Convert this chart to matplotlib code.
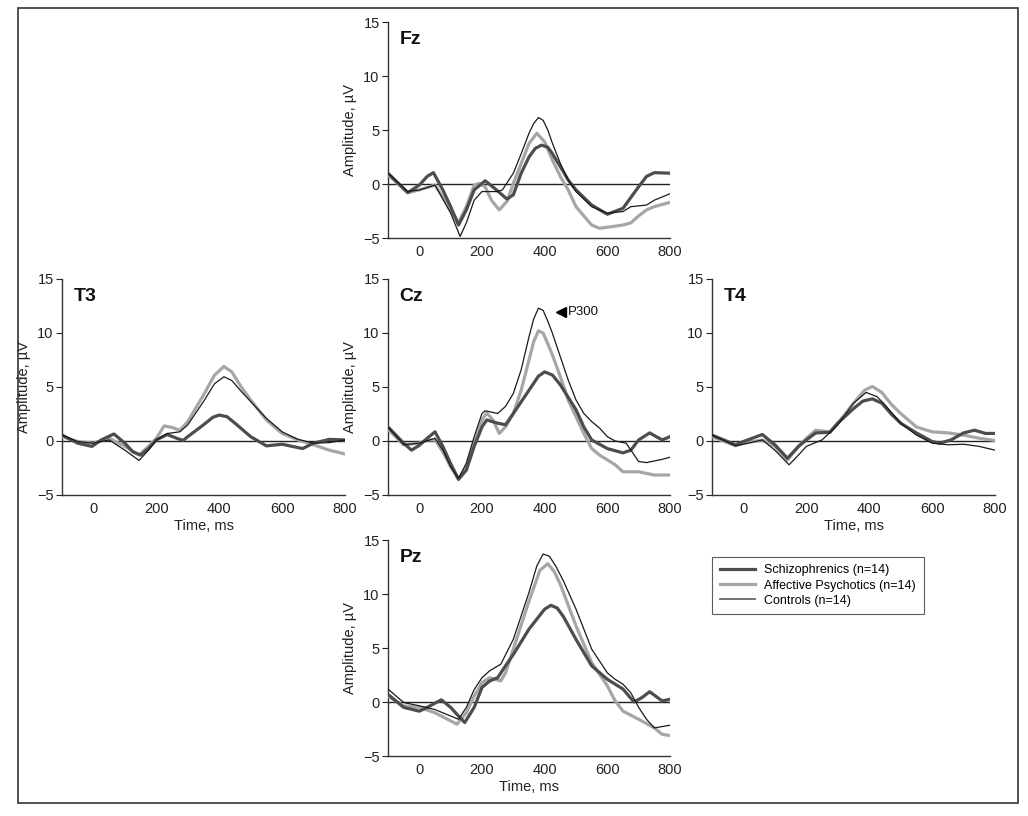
import matplotlib
matplotlib.use("Agg")
import matplotlib.pyplot as plt
from matplotlib.patches import Rectangle
from matplotlib.lines import Line2D

plt.rcParams['font.family'] = ['Liberation Sans Narrow', 'Liberation Sans', 'DejaVu Sans']

# ---------------- data (time in ms, amplitude in microvolts) ----------------
# Fz
fz_sch_t = [-100, -37, 0, 25, 45, 75, 100, 125, 150, 175, 210, 240, 280, 300, 325, 350, 370, 390, 410, 425, 450, 475, 500, 550, 600, 650, 700, 725, 750, 800]
fz_sch_v = [1.0, -0.8, -0.1, 0.7, 1.05, -0.55, -2.1, -3.8, -2.4, -0.55, 0.3, -0.4, -1.4, -1.0, 1.0, 2.5, 3.3, 3.6, 3.4, 2.8, 1.6, 0.37, -0.55, -1.95, -2.8, -2.25, -0.25, 0.7, 1.05, 1.0]
fz_aff_t = [-100, -37, 0, 50, 75, 100, 125, 150, 175, 190, 210, 230, 255, 280, 300, 325, 350, 375, 400, 425, 450, 475, 500, 550, 575, 600, 650, 675, 700, 725, 750, 800]
fz_aff_v = [0.85, -0.8, -0.55, -0.1, -1.2, -2.4, -3.6, -2.1, -0.1, 0.05, -0.25, -1.5, -2.4, -1.6, 0.05, 1.9, 3.75, 4.7, 3.9, 2.2, 0.7, -0.55, -2.1, -3.8, -4.1, -4.0, -3.8, -3.6, -2.95, -2.4, -2.1, -1.7]
fz_con_t = [-100, -37, 0, 50, 100, 130, 150, 175, 200, 250, 265, 300, 325, 350, 365, 380, 395, 410, 425, 450, 475, 500, 550, 600, 650, 675, 725, 750, 800]
fz_con_v = [1.0, -0.7, -0.55, -0.1, -2.7, -4.85, -3.6, -1.5, -0.7, -0.7, -0.55, 1.0, 2.8, 4.7, 5.6, 6.15, 5.9, 5.0, 3.75, 1.9, 0.37, -0.7, -2.1, -2.7, -2.55, -2.1, -1.95, -1.5, -0.9]

# Cz
cz_sch_t = [-100, -50, -25, 0, 25, 50, 75, 100, 125, 150, 175, 200, 215, 250, 275, 300, 350, 380, 400, 425, 450, 500, 525, 550, 600, 650, 675, 700, 735, 775, 800]
cz_sch_v = [1.3, -0.2, -0.85, -0.4, 0.25, 0.85, -0.5, -2.1, -3.55, -2.7, -0.5, 1.3, 1.95, 1.65, 1.5, 2.55, 4.7, 6.0, 6.4, 6.1, 5.2, 2.9, 1.3, 0.1, -0.7, -1.1, -0.85, 0.1, 0.75, 0.1, 0.4]
cz_aff_t = [-100, -50, 0, 25, 50, 75, 100, 125, 150, 175, 200, 215, 235, 255, 275, 300, 325, 350, 365, 380, 395, 410, 425, 450, 475, 500, 525, 550, 575, 600, 625, 650, 700, 750, 800]
cz_aff_v = [1.1, -0.35, -0.2, 0.1, 0.1, -1.0, -2.4, -3.55, -2.4, -0.2, 1.95, 2.6, 1.95, 0.7, 1.3, 2.55, 4.7, 7.5, 9.2, 10.2, 10.0, 9.0, 7.95, 5.95, 3.8, 2.25, 0.7, -0.7, -1.3, -1.75, -2.2, -2.85, -2.85, -3.15, -3.15]
cz_con_t = [-100, -50, 0, 50, 75, 100, 125, 150, 175, 200, 210, 250, 275, 300, 325, 350, 365, 380, 395, 410, 425, 450, 475, 500, 525, 550, 575, 600, 625, 660, 700, 725, 775, 800]
cz_con_v = [1.3, -0.35, -0.2, 0.25, -0.85, -2.4, -3.45, -2.05, 0.4, 2.55, 2.8, 2.55, 3.2, 4.4, 6.6, 9.65, 11.3, 12.3, 12.1, 11.1, 9.95, 7.8, 5.65, 3.8, 2.55, 1.8, 1.2, 0.4, 0.0, -0.2, -1.9, -2.0, -1.7, -1.5]

# T3
t3_sch_t = [-100, -50, -5, 25, 65, 100, 125, 150, 175, 200, 235, 265, 285, 300, 350, 380, 400, 425, 450, 500, 550, 600, 665, 700, 750, 800]
t3_sch_v = [0.55, -0.2, -0.5, 0.1, 0.65, -0.2, -1.0, -1.3, -0.7, 0.1, 0.6, 0.25, 0.05, 0.4, 1.5, 2.2, 2.4, 2.25, 1.65, 0.4, -0.45, -0.3, -0.7, -0.2, 0.15, 0.1]
t3_aff_t = [-100, -50, 0, 50, 100, 145, 175, 200, 225, 250, 275, 300, 350, 385, 415, 440, 470, 500, 550, 600, 650, 700, 750, 800]
t3_aff_v = [0.4, -0.05, -0.2, 0.25, -0.5, -1.3, -0.5, 0.25, 1.4, 1.25, 1.0, 1.8, 4.25, 6.1, 6.9, 6.4, 5.0, 3.8, 1.95, 0.7, 0.1, -0.35, -0.85, -1.2]
t3_con_t = [-100, -50, 0, 50, 100, 145, 175, 200, 235, 275, 300, 350, 385, 415, 440, 470, 500, 550, 600, 650, 700, 750, 800]
t3_con_v = [0.55, -0.05, -0.2, 0.1, -0.85, -1.8, -0.85, 0.1, 0.7, 0.85, 1.5, 3.65, 5.3, 5.95, 5.6, 4.6, 3.65, 2.1, 0.85, 0.15, -0.2, -0.15, 0.1]

# T4
t4_sch_t = [-100, -25, 0, 60, 100, 140, 175, 200, 230, 275, 300, 350, 380, 410, 440, 470, 500, 550, 600, 625, 660, 700, 735, 770, 800]
t4_sch_v = [0.55, -0.35, -0.05, 0.6, -0.35, -1.6, -0.5, 0.1, 0.75, 0.8, 1.65, 3.0, 3.7, 3.9, 3.5, 2.5, 1.65, 0.75, -0.05, -0.2, 0.1, 0.75, 1.0, 0.7, 0.7]
t4_aff_t = [-100, -25, 0, 60, 100, 140, 175, 200, 230, 275, 300, 350, 385, 410, 440, 470, 500, 550, 600, 650, 700, 750, 800]
t4_aff_v = [0.4, -0.45, -0.2, 0.1, -0.5, -1.75, -0.5, 0.25, 1.0, 0.85, 1.65, 3.5, 4.7, 5.05, 4.5, 3.4, 2.55, 1.3, 0.85, 0.75, 0.55, 0.25, 0.05]
t4_con_t = [-100, -25, 0, 60, 100, 145, 175, 200, 250, 300, 350, 390, 425, 450, 500, 550, 600, 650, 700, 750, 800]
t4_con_v = [0.55, -0.45, -0.3, 0.1, -0.85, -2.2, -1.3, -0.5, 0.1, 1.5, 3.5, 4.5, 4.1, 3.35, 1.65, 0.55, -0.2, -0.35, -0.3, -0.5, -0.85]

# Pz
pz_sch_t = [-100, -50, 0, 25, 70, 100, 125, 145, 175, 200, 225, 250, 275, 300, 350, 400, 420, 440, 460, 500, 550, 600, 650, 685, 710, 735, 775, 800]
pz_sch_v = [0.7, -0.5, -0.85, -0.5, 0.2, -0.5, -1.3, -1.9, -0.5, 1.35, 1.95, 2.25, 3.35, 4.4, 6.75, 8.6, 8.95, 8.7, 7.9, 5.8, 3.35, 2.1, 1.2, 0.0, 0.4, 0.95, 0.1, 0.25]
pz_aff_t = [-100, -50, 0, 50, 100, 120, 150, 175, 200, 225, 260, 275, 300, 350, 385, 410, 430, 450, 500, 550, 600, 625, 650, 700, 750, 775, 800]
pz_aff_v = [0.55, -0.35, -0.5, -1.0, -1.75, -2.05, -1.0, 0.55, 1.8, 2.25, 1.95, 2.7, 4.9, 9.35, 12.2, 12.8, 12.1, 10.9, 7.05, 3.65, 1.5, 0.1, -0.85, -1.6, -2.4, -3.0, -3.1]
pz_con_t = [-100, -50, 0, 50, 100, 125, 150, 175, 200, 225, 260, 300, 350, 375, 395, 415, 435, 460, 500, 550, 600, 625, 650, 675, 700, 725, 750, 800]
pz_con_v = [1.2, -0.05, -0.35, -0.7, -1.3, -1.6, -0.5, 1.15, 2.25, 2.9, 3.5, 5.8, 10.15, 12.6, 13.7, 13.5, 12.6, 11.2, 8.6, 4.9, 2.7, 2.1, 1.65, 0.85, -0.5, -1.6, -2.4, -2.15]

group_labels = ["Schizophrenics (n=14)", "Affective Psychotics (n=14)", "Controls (n=14)"]
x_ticks = [0, 200, 400, 600, 800]
y_ticks = [-5, 0, 5, 10, 15]

# ---------------- styling ----------------
styles = [dict(color="#4d4d4d", lw=2.3, zorder=4),
          dict(color="#a6a6a6", lw=2.3, zorder=3),
          dict(color="#1a1a1a", lw=0.9, zorder=5)]

W, H = 1028, 816
fig = plt.figure(figsize=(W / 100, H / 100), dpi=100)
fig.patch.set_facecolor("white")


def px_axes(x0, x1, ytop, ybot):
    return fig.add_axes([x0 / W, 1 - ybot / H, (x1 - x0) / W, (ybot - ytop) / H])


def draw_panel(ax, name, series, ylabel=True, xlabel=False):
    for (t, v), st in zip(series, styles):
        ax.plot(t, v, solid_joinstyle="round", solid_capstyle="round", **st)
    ax.axhline(0, color="#222222", lw=1.0, zorder=2)
    ax.set_xlim(-100, 800)
    ax.set_ylim(-5, 15)
    ax.set_xticks(x_ticks)
    ax.set_yticks(y_ticks)
    ax.set_yticklabels(["\u22125", "0", "5", "10", "15"])
    for s in ("top", "right"):
        ax.spines[s].set_visible(False)
    for s in ("left", "bottom"):
        ax.spines[s].set_color("#333333")
        ax.spines[s].set_linewidth(1.0)
    ax.tick_params(axis="x", length=0, pad=5, labelsize=10.5, colors="#222222")
    ax.tick_params(axis="y", length=4, width=0.8, pad=2, labelsize=10.5, colors="#222222")
    ax.text(0.04, 0.92, name, transform=ax.transAxes, fontsize=14, fontweight="bold",
            va="center", ha="left", color="#111111")
    if ylabel:
        ax.set_ylabel("Amplitude, \u00b5V", fontsize=10.5, color="#222222", labelpad=4)
    if xlabel:
        ax.set_xlabel("Time, ms", fontsize=10.5, color="#222222", labelpad=2)
    ax.set_facecolor("none")


ax_fz = px_axes(388, 670, 22, 238)
draw_panel(ax_fz, "Fz", [(fz_sch_t, fz_sch_v), (fz_aff_t, fz_aff_v), (fz_con_t, fz_con_v)])

ax_cz = px_axes(388, 670, 279, 495)
draw_panel(ax_cz, "Cz", [(cz_sch_t, cz_sch_v), (cz_aff_t, cz_aff_v), (cz_con_t, cz_con_v)])
ax_cz.plot([452], [11.9], marker="<", color="black", markersize=7, zorder=6)
ax_cz.text(474, 11.9, "P300", fontsize=9.5, va="center", ha="left", color="#111111")

ax_t3 = px_axes(62, 345, 279, 495)
draw_panel(ax_t3, "T3", [(t3_sch_t, t3_sch_v), (t3_aff_t, t3_aff_v), (t3_con_t, t3_con_v)], xlabel=True)

ax_t4 = px_axes(712, 995, 279, 495)
draw_panel(ax_t4, "T4", [(t4_sch_t, t4_sch_v), (t4_aff_t, t4_aff_v), (t4_con_t, t4_con_v)], ylabel=False, xlabel=True)

ax_pz = px_axes(388, 670, 540, 756)
draw_panel(ax_pz, "Pz", [(pz_sch_t, pz_sch_v), (pz_aff_t, pz_aff_v), (pz_con_t, pz_con_v)], xlabel=True)

# legend
handles = [Line2D([], [], color=styles[0]["color"], lw=2.3),
           Line2D([], [], color=styles[1]["color"], lw=2.3),
           Line2D([], [], color="#666666", lw=1.3)]
leg = fig.legend(handles, group_labels, loc="upper left",
                 bbox_to_anchor=(712 / W, 1 - 557 / H), fontsize=9,
                 frameon=True, fancybox=False, edgecolor="#333333",
                 handlelength=2.8, handletextpad=0.8, labelspacing=0.25,
                 borderpad=0.6, borderaxespad=0)
leg.get_frame().set_linewidth(0.8)

# outer border
fig.patches.append(Rectangle((18 / W, 1 - 803 / H), 1000 / W, 795 / H, transform=fig.transFigure,
                             fill=False, edgecolor="#333333", lw=1.2))

fig.savefig("out.png", dpi=100)
